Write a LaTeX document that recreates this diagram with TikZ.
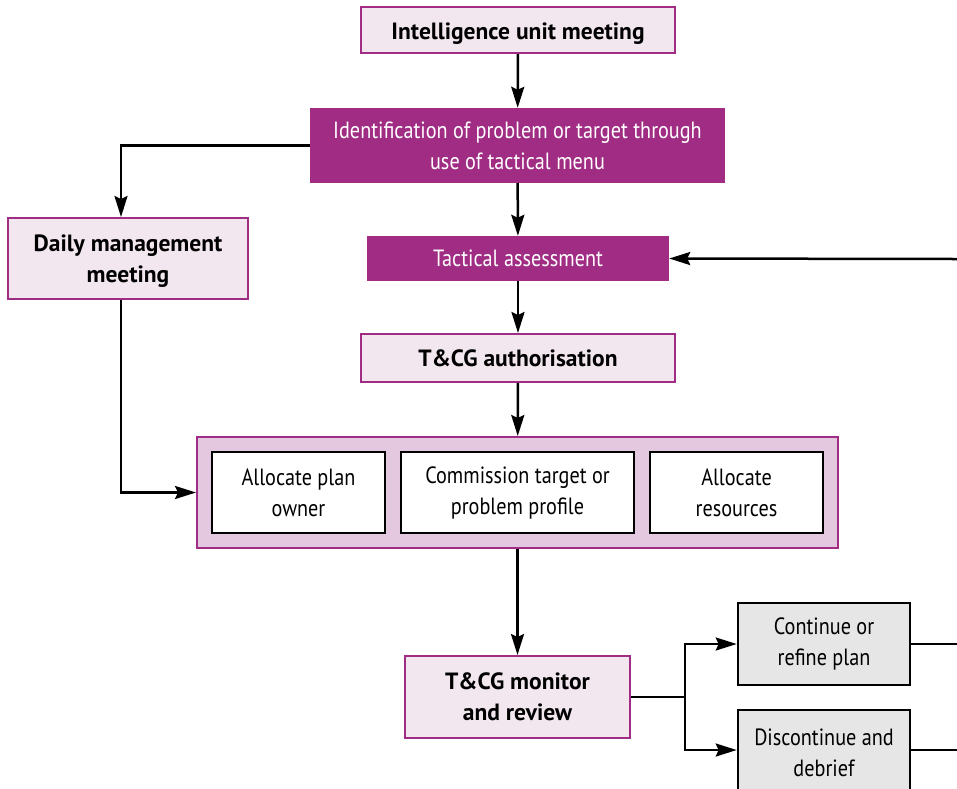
\documentclass[tikz,border=0pt]{standalone}
\usepackage{fontspec}
\setmainfont{PT Sans}
\newfontfamily\condfont[FakeStretch=0.86]{PT Sans}
\usetikzlibrary{arrows.meta}
\definecolor{plum}{RGB}{160,44,132}
\definecolor{plumlight}{RGB}{242,230,239}
\definecolor{plummid}{RGB}{228,200,223}
\definecolor{greybox}{RGB}{230,230,230}
\newcommand{\boxfont}{\fontsize{23.5}{31}\selectfont}
\tikzset{
  base/.style={rectangle, inner sep=0pt, align=center, font=\boxfont},
  lightbox/.style={base, draw=plum, line width=2pt, fill=plumlight, font=\boxfont\bfseries},
  darkbox/.style={base, fill=plum, text=white, font=\boxfont\condfont},
  whitebox/.style={base, draw=black, line width=2.6pt, fill=white, font=\boxfont\condfont},
  greyfill/.style={base, draw=black, line width=2.6pt, fill=greybox, font=\boxfont\condfont},
  groupbox/.style={rectangle, draw=plum, line width=2pt, fill=plummid},
  flow/.style={draw=black, line width=2.5pt, -{Stealth[length=21pt,width=13pt,inset=3pt]}},
  plain/.style={draw=black, line width=2.5pt}
}
\begin{document}
\begin{tikzpicture}[x=1pt, y=-1pt]
\clip (0,0) rectangle (957,788);
\fill[white] (0,0) rectangle (957,788);

% main column
\node[lightbox, minimum width=314pt, minimum height=46pt] (intel) at (518,30) {\rule{0pt}{23pt}Intelligence unit meeting};
\node[darkbox, minimum width=415pt, minimum height=75pt] (ident) at (517.5,145.5) {Identification of problem or target through\\use of tactical menu};
\node[darkbox, minimum width=302pt, minimum height=45pt] (tact) at (518,258.5) {Tactical assessment};
\node[lightbox, minimum width=314pt, minimum height=48pt] (auth) at (518,358) {T\&CG authorisation};

% side branch
\node[lightbox, minimum width=240pt, minimum height=81pt] (daily) at (128,258.5) {\rule{0pt}{21pt}Daily management\\meeting};

% allocation group
\node[groupbox, minimum width=641pt, minimum height=111pt] (group) at (517.5,492.5) {};
\node[whitebox, minimum width=173pt, minimum height=81pt] (owner) at (298.5,492.5) {Allocate plan\\owner};
\node[whitebox, minimum width=233pt, minimum height=81pt] (profile) at (517.5,492.5) {Commission target or\\problem profile};
\node[whitebox, minimum width=173pt, minimum height=81pt] (resources) at (736.5,492.5) {Allocate\\resources};

% review and outcomes
\node[lightbox, minimum width=225pt, minimum height=82pt] (review) at (517.5,697) {T\&CG monitor\\and review};
\node[greyfill, minimum width=172pt, minimum height=82pt] (cont) at (824,644) {Continue or\\refine plan};
\node[greyfill, minimum width=172pt, minimum height=85pt] (stop) at (824,752.5) {Discontinue and\\debrief};

% connector ends and junctions
\coordinate (sidex) at (121,0);
\coordinate (feedin) at (957,259);
\coordinate (contout) at (957,644);
\coordinate (stopout) at (957,750);
\coordinate (split) at (685,697);

% connectors
\draw[flow] (intel) -- (ident);
\draw[flow] (ident) -- (tact);
\draw[flow] (tact) -- (auth);
\draw[flow] (auth) -- (group);
\draw[flow] (group) -- (review);
\draw[flow] (feedin) -- (tact.east);
\draw[flow] (ident.west) -| (daily.north -| sidex);
\draw[flow] (daily.south -| sidex) |- (group.west);
\draw[plain] (review.east) -- (split);
\draw[flow] (split) |- (cont.west);
\draw[flow] (split) |- (stop.west |- stopout);
\draw[plain] (cont.east) -- (contout);
\draw[plain] (stop.east |- stopout) -- (stopout);
\end{tikzpicture}
\end{document}
